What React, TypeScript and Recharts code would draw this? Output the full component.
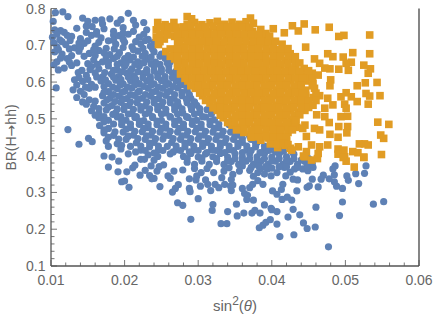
import { ScatterChart, Scatter, XAxis, YAxis, Label } from "recharts";

const FONT = "'Liberation Sans', Arial, sans-serif";
const BLUE = "#5E81B5";
const ORANGE = "#E19C24";
const FRAME = "#555555";
const TEXT = "#666666";

const xMajor = [0.01, 0.02, 0.03, 0.04, 0.05, 0.06];
const yMajor = [0.1, 0.2, 0.3, 0.4, 0.5, 0.6, 0.7, 0.8];
const xTicks = [0.01, 0.012, 0.014, 0.016, 0.018, 0.02, 0.022, 0.024, 0.026, 0.028, 0.03, 0.032, 0.034, 0.036, 0.038, 0.04, 0.042, 0.044, 0.046, 0.048, 0.05, 0.052, 0.054, 0.056, 0.058, 0.06];
const yTicks = [0.1, 0.12, 0.14, 0.16, 0.18, 0.2, 0.22, 0.24, 0.26, 0.28, 0.3, 0.32, 0.34, 0.36, 0.38, 0.4, 0.42, 0.44, 0.46, 0.48, 0.5, 0.52, 0.54, 0.56, 0.58, 0.6, 0.62, 0.64, 0.66, 0.68, 0.7, 0.72, 0.74, 0.76, 0.78, 0.8];

// sparse points read one by one
const blueOutliers = [
  [.0178,.369],[.0191,.356],[.0203,.356],[.0196,.329],[.02,.331],[.0206,.314],[.0211,.367],[.0214,.374],[.0221,.347],[.0228,.36],[.0236,.372],[.0234,.346],[.0237,.337],[.024,.338],[.0248,.316],[.0244,.358],[.0247,.37],[.0253,.375],[.0259,.345],[.0262,.338],[.0267,.358],[.0273,.321],[.0269,.311],[.0265,.301],[.0272,.272],[.0279,.265],[.0279,.361],[.029,.227],[.0288,.311],[.0289,.302],[.0288,.337],[.03,.283],[.0295,.365],[.0298,.345],[.0304,.354],[.0303,.317],[.0297,.334],[.0317,.305],[.032,.267],[.0319,.251],[.031,.334],[.0313,.322],[.0312,.365],[.0323,.322],[.0321,.354],[.0172,.399],[.0183,.396],[.0192,.385],[.0222,.39],[.0227,.39],[.024,.388],
  [.0477,.152],[.0411,.18],[.043,.185],[.0383,.204],[.0388,.211],[.0392,.219],[.0398,.226],[.0407,.214],[.0331,.215],[.0339,.215],[.0353,.236],[.034,.248],[.0362,.244],[.0373,.244],[.0377,.251],[.0384,.244],[.039,.266],[.0399,.257],[.04,.253],[.0407,.248],[.0422,.233],[.0429,.254],[.0438,.239],[.0443,.217],[.0448,.202],[.0459,.206],[.046,.26],[.0492,.237],[.0496,.274],[.0538,.268],[.0552,.275],[.0434,.304],[.0414,.281],[.0421,.287],[.0427,.279],[.0352,.268],[.0366,.281],[.0375,.279],[.0367,.292],[.0363,.297],[.036,.311],[.037,.313],[.0345,.305],[.0344,.317],[.0328,.313],[.0336,.322],[.0347,.32],[.0345,.335],[.0332,.34],[.0347,.349],[.0356,.358],[.036,.372],
  [.0496,.311],[.0488,.317],[.0485,.329],[.0478,.337],[.047,.347],[.0463,.315],[.0451,.318],[.0448,.314],[.0455,.336],[.0467,.336],[.0504,.333],[.0502,.345],[.0514,.351],[.0518,.324],[.0526,.352],[.0528,.372],[.0485,.348],[.0483,.364],[.0486,.372],[.0435,.334],[.0429,.336],[.0419,.345],[.0415,.322],[.0413,.308],[.0407,.295],[.0401,.304],[.0388,.322],[.0381,.332],[.0374,.322],[.0399,.345],[.0407,.354],[.0381,.354],[.0394,.364],[.0417,.368],[.0431,.364],[.0442,.364],[.0456,.368],[.0449,.359],
  [.0106,.789],[.0116,.791],[.0123,.778],[.0143,.774],[.0103,.765],[.0113,.74],[.0104,.706],[.0104,.647],[.011,.633],[.0107,.584],[.0123,.471],[.0138,.431],[.0151,.447],[.0156,.438],[.0132,.606],[.013,.579],[.0169,.769],[.018,.772],[.019,.76],[.0205,.787],[.0156,.751],[.0162,.737],
];

// the crowded part of the blue cloud
const blueCloud = [
  [.0105,.742],[.0118,.735],[.0135,.746],[.0148,.752],[.0172,.745],[.0185,.738],[.0198,.748],[.0215,.755],[.023,.742],
  [.0102,.722],[.0112,.715],[.0128,.724],[.014,.718],[.0155,.727],[.0168,.72],[.0178,.712],[.0192,.726],[.0205,.73],[.022,.722],[.0232,.716],
  [.0108,.696],[.012,.702],[.0132,.693],[.0145,.705],[.016,.698],[.0175,.692],[.0188,.703],[.02,.708],[.021,.696],[.0222,.704],[.0235,.698],
  [.0105,.682],[.0115,.676],[.0128,.672],[.0138,.684],[.0152,.678],[.0165,.686],[.018,.675],[.0193,.68],[.0205,.672],[.0218,.684],[.0228,.678],[.024,.682],[.025,.676],
  [.0108,.655],[.0122,.664],[.0135,.652],[.0158,.66],[.017,.655],[.0185,.664],[.0195,.652],[.0207,.66],[.0218,.655],[.023,.662],[.0242,.654],[.0255,.664],[.0262,.655],
  [.0118,.638],[.0128,.645],[.0142,.632],[.0155,.642],[.0165,.636],[.0178,.644],[.019,.633],[.02,.642],[.021,.636],[.022,.644],[.023,.634],[.024,.642],[.025,.636],[.026,.644],
  [.0148,.618],[.016,.625],[.017,.614],[.0182,.622],[.0192,.615],[.0203,.624],[.0213,.616],[.0225,.623],[.0235,.614],[.0245,.622],[.0255,.615],[.0265,.624],[.0272,.616],
  [.0143,.602],[.0155,.594],[.0168,.603],[.0178,.596],[.0188,.605],[.0198,.595],[.0208,.604],[.022,.596],[.023,.603],[.024,.595],[.025,.604],[.026,.596],[.027,.603],[.0278,.595],
  [.014,.575],[.0152,.583],[.0178,.574],[.019,.582],[.02,.575],[.021,.584],[.022,.576],[.0232,.583],[.0242,.575],[.0252,.583],[.0262,.576],[.0272,.584],[.0285,.577],
  [.0135,.558],[.0152,.552],[.017,.563],[.018,.556],[.0192,.562],[.0203,.555],[.0213,.564],[.0224,.556],[.0235,.563],[.0246,.555],[.0256,.564],[.0267,.556],[.0278,.563],[.029,.556],
  [.0148,.54],[.0158,.534],[.0172,.543],[.0183,.536],[.0195,.545],[.0206,.536],[.0217,.544],[.0228,.535],[.024,.544],[.025,.536],[.0262,.544],[.0273,.536],[.0285,.544],[.0298,.537],
  [.0155,.522],[.0165,.515],[.0175,.524],[.0188,.516],[.0199,.525],[.021,.515],[.0222,.524],[.0233,.516],[.0245,.525],[.0256,.516],[.0268,.524],[.0279,.516],[.0291,.525],[.0302,.517],[.0312,.525],
  [.0165,.503],[.0178,.496],[.019,.505],[.0202,.496],[.0214,.504],[.0226,.495],[.0238,.504],[.025,.496],[.0262,.505],[.0274,.496],[.0286,.504],[.0298,.496],[.031,.505],[.0322,.497],
  [.0166,.482],[.0178,.474],[.0196,.484],[.0208,.476],[.022,.485],[.0232,.476],[.0244,.484],[.0256,.475],[.0268,.484],[.028,.476],[.0292,.485],[.0304,.476],[.0316,.484],[.0328,.476],[.0342,.484],
  [.0172,.462],[.0185,.455],[.0198,.464],[.0212,.456],[.0224,.465],[.0236,.456],[.0248,.464],[.026,.455],[.0272,.464],[.0284,.456],[.0296,.465],[.0308,.456],[.032,.464],[.0332,.456],[.0344,.464],[.0355,.456],
  [.0175,.44],[.019,.432],[.0202,.444],[.0216,.435],[.0228,.444],[.024,.436],[.0252,.445],[.0264,.436],[.0276,.444],[.0288,.436],[.03,.445],[.0312,.436],[.0324,.444],[.0336,.436],[.0348,.444],[.036,.436],[.0372,.444],[.038,.436],
  [.0178,.425],[.0195,.418],[.0208,.425],[.0222,.415],[.0234,.424],[.0246,.416],[.0258,.425],[.027,.416],[.0282,.424],[.0294,.416],[.0306,.425],[.0318,.416],[.033,.424],[.0342,.416],[.0354,.425],[.0366,.416],[.0378,.424],[.039,.416],[.04,.424],[.041,.418],
  [.0205,.405],[.0232,.402],[.0245,.398],[.0262,.405],[.028,.398],[.029,.406],[.03,.396],[.031,.405],[.032,.397],[.033,.406],[.034,.396],[.035,.405],[.036,.396],[.037,.405],[.038,.397],[.039,.405],[.04,.396],[.041,.405],[.042,.397],[.043,.404],
  [.0285,.382],[.0295,.376],[.0305,.385],[.0315,.376],[.0325,.384],[.0335,.376],[.0345,.384],[.0355,.376],[.0365,.385],[.0375,.376],[.0385,.384],[.0395,.376],[.0405,.385],[.0415,.376],[.0425,.384],[.0435,.376],[.0445,.384],[.0455,.378],
  [.0335,.358],[.037,.36],[.0385,.365],[.041,.37],[.0425,.355],[.0375,.344],[.039,.35],[.0342,.367],
];

// second pass over the same cloud, between the rows above
const blueFill = [
  [.015,.765],[.016,.768],[.017,.758],[.0195,.77],[.0212,.768],[.0226,.762],
  [.0108,.73],[.0122,.727],[.0148,.735],[.0162,.73],[.0185,.728],[.0198,.733],[.0212,.738],[.0226,.73],
  [.0115,.71],[.0126,.713],[.0138,.706],[.015,.712],[.0165,.708],[.0185,.714],[.0198,.716],[.0215,.71],[.0228,.713],[.024,.708],
  [.011,.688],[.0125,.69],[.014,.694],[.0158,.688],[.0172,.68],[.0186,.69],[.0198,.694],[.0212,.688],[.0225,.692],[.0238,.69],
  [.0113,.665],[.0145,.67],[.016,.672],[.0175,.668],[.019,.67],[.02,.664],[.0212,.668],[.0224,.67],[.0236,.668],[.0248,.67],[.026,.668],
  [.0125,.654],[.015,.65],[.0163,.648],[.0178,.654],[.019,.648],[.0202,.65],[.0214,.648],[.0226,.652],[.0236,.65],[.0248,.648],[.0258,.652],
  [.0137,.626],[.0153,.634],[.0173,.626],[.0185,.632],[.0196,.628],[.0208,.63],[.0218,.628],[.023,.626],[.024,.63],[.025,.628],[.026,.632],[.027,.63],
  [.0138,.612],[.015,.607],[.0162,.614],[.0174,.606],[.0185,.613],[.0195,.607],[.0205,.614],[.0215,.608],[.0225,.612],[.0235,.606],[.0245,.613],[.0255,.607],[.0265,.612],[.0275,.606],
  [.0135,.592],[.0147,.586],[.016,.586],[.0172,.588],[.0184,.586],[.0194,.592],[.0204,.586],[.0214,.593],[.0226,.588],[.0236,.592],[.0246,.586],[.0256,.592],[.0266,.588],[.0276,.592],[.0284,.588],
  [.0145,.566],[.0172,.572],[.0185,.566],[.0197,.572],[.0208,.566],[.0218,.572],[.0228,.566],[.0238,.572],[.0248,.566],[.0258,.572],[.0268,.566],[.0278,.572],[.0288,.566],
  [.0143,.546],[.016,.548],[.0176,.552],[.0187,.547],[.0198,.553],[.0208,.546],[.0218,.553],[.023,.546],[.024,.553],[.0252,.546],[.0262,.553],[.0272,.546],[.0284,.553],[.0295,.546],
  [.0165,.528],[.0178,.532],[.019,.527],[.02,.534],[.0212,.526],[.0222,.533],[.0234,.527],[.0245,.534],[.0256,.526],[.0268,.533],[.0278,.527],[.029,.534],[.0302,.528],
  [.016,.51],[.0172,.506],[.0184,.512],[.0195,.506],[.0205,.513],[.0216,.506],[.0228,.513],[.0238,.506],[.025,.513],[.0262,.506],[.0272,.513],[.0284,.506],[.0295,.513],[.0306,.506],[.0318,.513],
  [.0172,.492],[.0185,.486],[.0196,.494],[.0208,.486],[.022,.494],[.0232,.486],[.0244,.494],[.0256,.486],[.0268,.494],[.028,.486],[.0292,.494],[.0304,.486],[.0316,.494],[.0328,.486],
  [.0172,.47],[.0187,.465],[.0202,.472],[.0214,.466],[.0226,.474],[.0238,.466],[.025,.474],[.0262,.466],[.0274,.474],[.0286,.466],[.0298,.474],[.031,.466],[.0322,.474],[.0334,.466],[.0348,.473],
  [.0178,.45],[.0192,.445],[.0205,.453],[.0218,.446],[.023,.454],[.0242,.446],[.0254,.454],[.0266,.446],[.0278,.454],[.029,.446],[.0302,.454],[.0314,.446],[.0326,.454],[.0338,.446],[.035,.454],[.036,.446],[.037,.453],
  [.0196,.428],[.0222,.426],[.0234,.434],[.0246,.426],[.027,.426],[.0282,.434],[.0294,.426],[.0306,.434],[.0318,.426],[.033,.434],[.0342,.426],[.0354,.434],[.0366,.426],[.0378,.434],[.039,.426],
  [.0215,.41],[.0228,.414],[.024,.407],[.0252,.414],[.0266,.41],[.0276,.414],[.0288,.41],[.03,.414],[.0312,.408],[.0324,.414],[.0336,.408],[.0348,.414],[.036,.408],[.0372,.414],[.0384,.408],[.0396,.414],[.0405,.41],[.0416,.412],[.0428,.41],
  [.0285,.392],[.0305,.394],[.0325,.392],[.034,.386],[.035,.392],[.036,.386],[.037,.392],[.038,.386],[.039,.392],[.04,.386],[.041,.392],[.042,.386],[.043,.392],[.044,.388],[.045,.392],
  [.0372,.368],[.0382,.372],[.0392,.37],[.04,.366],[.042,.37],[.0435,.368],[.0448,.372],
];

const orangeOutliers = [
  [.0371,.774],[.0375,.76],[.0402,.745],[.0428,.753],[.0444,.758],[.0436,.739],[.0459,.742],[.0478,.749],[.0417,.734],[.0397,.725],[.0491,.724],[.0498,.727],[.0533,.728],[.0446,.695],[.051,.68],[.0533,.677],[.0476,.677],[.0483,.669],[.0497,.668],[.0508,.654],[.0501,.651],[.0525,.646],[.0534,.636],[.0531,.624],[.0491,.635],[.0504,.632],[.0472,.638],[.0479,.636],[.0458,.663],[.0465,.651],[.0463,.619],[.048,.606],[.0479,.59],[.0543,.599],[.0527,.598],[.0516,.59],[.0528,.569],[.0533,.562],[.0547,.563],[.0531,.54],[.0501,.571],[.0494,.56],[.0508,.56],[.0516,.547],[.0499,.54],[.0501,.529],[.0483,.538],[.0476,.556],[.0456,.537],[.0461,.511],[.0472,.506],[.0478,.49],[.0472,.529],[.0494,.506],[.0503,.507],[.0491,.479],[.0503,.479],[.0502,.462],[.0544,.491],[.0559,.485],[.0548,.456],[.0552,.447],[.049,.45],[.0479,.458],[.0445,.483],[.0442,.474],[.0458,.474],[.0465,.47],[.0433,.497],[.0519,.432],[.0526,.432],[.0531,.429],[.0549,.403],[.051,.411],[.0517,.408],[.0525,.395],[.049,.418],[.0498,.415],[.049,.404],[.0499,.397],[.0476,.429],[.0465,.424],[.0463,.406],[.0454,.429],[.0447,.452],[.0447,.411],[.0436,.424],[.0445,.397],[.0427,.415],[.0512,.369],[.0501,.385],[.0497,.395],[.0525,.396],[.0454,.388],[.0462,.392],[.0443,.399],
];

const orangeCloud = [
  [.0285,.778],[.0291,.772],
  [.0245,.762],[.0255,.756],[.0267,.762],[.0285,.757],[.0295,.762],[.0305,.756],[.0316,.761],[.0326,.765],[.0336,.757],[.0346,.763],[.0356,.757],[.0365,.764],
  [.0243,.742],[.0254,.737],[.0264,.744],[.0274,.738],[.0284,.744],[.0294,.737],[.0304,.744],[.0314,.738],[.0324,.743],[.0334,.737],[.0344,.744],[.0354,.738],[.0364,.744],[.0374,.738],[.0385,.743],
  [.0243,.722],[.0254,.717],[.0268,.724],[.0278,.718],[.0288,.724],[.0298,.717],[.0308,.724],[.0318,.718],[.0328,.723],[.0338,.717],[.0348,.724],[.0358,.718],[.0368,.724],[.0378,.718],[.0388,.723],[.0396,.716],
  [.0246,.702],[.0272,.704],[.0282,.697],[.0292,.703],[.0302,.697],[.0312,.704],[.0322,.698],[.0332,.703],[.0342,.697],[.0352,.704],[.0362,.698],[.0372,.703],[.0382,.697],[.0392,.704],[.0402,.698],[.0414,.703],
  [.0256,.683],[.0267,.677],[.0276,.684],[.0286,.678],[.0296,.683],[.0306,.677],[.0316,.684],[.0326,.678],[.0336,.683],[.0346,.677],[.0356,.684],[.0366,.678],[.0376,.683],[.0386,.677],[.0396,.684],[.0406,.678],[.0416,.683],[.0425,.677],
  [.0268,.663],[.0278,.657],[.0288,.664],[.0298,.658],[.0308,.663],[.0318,.657],[.0328,.664],[.0338,.658],[.0348,.663],[.0358,.657],[.0368,.664],[.0378,.658],[.0388,.663],[.0398,.657],[.0408,.664],[.0418,.658],[.0428,.662],
  [.0272,.643],[.0282,.637],[.0292,.644],[.0302,.638],[.0312,.643],[.0322,.637],[.0332,.644],[.0342,.638],[.0352,.643],[.0362,.637],[.0372,.644],[.0382,.638],[.0392,.643],[.0402,.637],[.0412,.644],[.0422,.638],[.0432,.643],[.0444,.637],
  [.0276,.622],[.0286,.617],[.0296,.623],[.0306,.618],[.0316,.623],[.0326,.617],[.0336,.624],[.0346,.618],[.0356,.623],[.0366,.617],[.0376,.624],[.0386,.618],[.0396,.623],[.0406,.617],[.0416,.624],[.0426,.618],[.0436,.623],[.0446,.617],[.0455,.624],
  [.0286,.603],[.0296,.597],[.0306,.604],[.0316,.598],[.0326,.603],[.0336,.597],[.0346,.604],[.0356,.598],[.0366,.603],[.0376,.597],[.0386,.604],[.0396,.598],[.0406,.603],[.0416,.597],[.0426,.604],[.0436,.598],[.0446,.603],[.0456,.597],
  [.0296,.583],[.0306,.577],[.0316,.584],[.0326,.578],[.0336,.583],[.0346,.577],[.0356,.584],[.0366,.578],[.0376,.583],[.0386,.577],[.0396,.584],[.0406,.578],[.0416,.583],[.0426,.577],[.0436,.584],[.0446,.578],[.0458,.583],
  [.0306,.563],[.0316,.557],[.0326,.564],[.0336,.558],[.0346,.563],[.0356,.557],[.0366,.564],[.0376,.558],[.0386,.563],[.0396,.557],[.0406,.564],[.0416,.558],[.0426,.563],[.0436,.557],[.0446,.564],[.0456,.558],[.0465,.563],
  [.0316,.543],[.0326,.537],[.0336,.544],[.0346,.538],[.0356,.543],[.0366,.537],[.0376,.544],[.0386,.538],[.0396,.543],[.0406,.537],[.0416,.544],[.0426,.538],[.0436,.543],[.0446,.537],
  [.0326,.523],[.0336,.517],[.0346,.524],[.0356,.518],[.0366,.523],[.0376,.517],[.0386,.524],[.0396,.518],[.0406,.523],[.0416,.517],[.0426,.524],[.0436,.518],[.0445,.523],
  [.0334,.503],[.0346,.497],[.0356,.504],[.0366,.498],[.0376,.503],[.0386,.497],[.0396,.504],[.0406,.498],[.0416,.503],[.0426,.497],
  [.0346,.483],[.0356,.477],[.0366,.484],[.0376,.478],[.0386,.483],[.0396,.477],[.0406,.484],[.0416,.478],[.0426,.483],[.0434,.477],
  [.0362,.463],[.0372,.457],[.0382,.464],[.0392,.458],[.0402,.463],[.0412,.457],[.0422,.463],
  [.0385,.442],[.0395,.448],[.0405,.441],[.0415,.447],[.042,.44],
  [.0408,.422],[.0418,.428],[.0425,.42],
];

const orangeFill = [
  [.0249,.75],[.026,.751],[.027,.749],[.028,.75],[.029,.752],[.03,.749],[.031,.75],[.032,.752],[.033,.749],[.034,.75],[.035,.751],[.036,.75],[.037,.749],
  [.0248,.73],[.0258,.728],[.0272,.73],[.0282,.731],[.0292,.729],[.0302,.731],[.0312,.73],[.0322,.729],[.0332,.731],[.0342,.73],[.0352,.731],[.0362,.729],[.0372,.731],[.0382,.73],[.0392,.732],
  [.0248,.71],[.0275,.71],[.0285,.711],[.0295,.709],[.0305,.711],[.0315,.71],[.0325,.711],[.0335,.709],[.0345,.711],[.0355,.71],[.0365,.711],[.0375,.709],[.0385,.711],[.0395,.71],[.0405,.711],
  [.0262,.69],[.0272,.69],[.0282,.691],[.0292,.689],[.0302,.691],[.0312,.69],[.0322,.691],[.0332,.689],[.0342,.691],[.0352,.69],[.0362,.691],[.0372,.689],[.0382,.691],[.0392,.69],[.0402,.691],[.0412,.689],[.0422,.691],
  [.0262,.67],[.0272,.669],[.0282,.671],[.0292,.67],[.0302,.671],[.0312,.669],[.0322,.671],[.0332,.67],[.0342,.671],[.0352,.669],[.0362,.671],[.0372,.67],[.0382,.671],[.0392,.669],[.0402,.671],[.0412,.67],[.0422,.671],[.0432,.669],
  [.0272,.65],[.0282,.651],[.0292,.649],[.0302,.651],[.0312,.65],[.0322,.651],[.0332,.649],[.0342,.651],[.0352,.65],[.0362,.651],[.0372,.649],[.0382,.651],[.0392,.65],[.0402,.651],[.0412,.649],[.0422,.651],[.0432,.65],[.0438,.652],
  [.0278,.63],[.0288,.631],[.0298,.629],[.0308,.631],[.0318,.63],[.0328,.631],[.0338,.629],[.0348,.631],[.0358,.63],[.0368,.631],[.0378,.629],[.0388,.631],[.0398,.63],[.0408,.631],[.0418,.629],[.0428,.631],[.0438,.63],[.045,.631],
  [.0282,.61],[.0292,.611],[.0302,.609],[.0312,.611],[.0322,.61],[.0332,.611],[.0342,.609],[.0352,.611],[.0362,.61],[.0372,.611],[.0382,.609],[.0392,.611],[.0402,.61],[.0412,.611],[.0422,.609],[.0432,.611],[.0442,.61],[.0455,.611],
  [.029,.59],[.03,.591],[.031,.589],[.032,.591],[.033,.59],[.034,.591],[.035,.589],[.036,.591],[.037,.59],[.038,.591],[.039,.589],[.04,.591],[.041,.59],[.042,.591],[.043,.589],[.044,.591],[.0455,.59],
  [.0302,.57],[.0312,.571],[.0322,.569],[.0332,.571],[.0342,.57],[.0352,.571],[.0362,.569],[.0372,.571],[.0382,.57],[.0392,.571],[.0402,.569],[.0412,.571],[.0422,.57],[.0432,.571],[.0442,.569],[.046,.57],
  [.031,.55],[.032,.551],[.033,.549],[.034,.551],[.035,.55],[.036,.551],[.037,.549],[.038,.551],[.039,.55],[.04,.551],[.041,.549],[.042,.551],[.043,.55],[.044,.551],[.045,.549],[.046,.55],
  [.032,.53],[.033,.531],[.034,.529],[.035,.531],[.036,.53],[.037,.531],[.038,.529],[.039,.531],[.04,.53],[.041,.531],[.042,.529],[.043,.531],[.044,.53],[.045,.531],
  [.033,.51],[.034,.511],[.035,.509],[.036,.511],[.037,.51],[.038,.511],[.039,.509],[.04,.511],[.041,.51],[.042,.511],[.043,.509],[.0438,.511],
  [.034,.49],[.035,.491],[.036,.489],[.037,.491],[.038,.49],[.039,.491],[.04,.489],[.041,.491],[.042,.49],[.0432,.491],
  [.0352,.47],[.0362,.471],[.0372,.469],[.0382,.471],[.0392,.47],[.0402,.471],[.0412,.469],[.0422,.471],[.0428,.47],
  [.0372,.45],[.0382,.451],[.0392,.452],[.0402,.45],[.0412,.451],[.042,.45],
  [.0398,.432],[.0408,.431],[.0416,.433],[.0422,.43],
];

const toRows = (pts: number[][]) => pts.map(([x, y]) => ({ x, y }));

const XTick = ({ x, y, payload, top }: any) => {
  const major = xMajor.some((m) => Math.abs(m - payload.value) < 1e-6);
  const len = major ? 6 : 3.5;
  return (
    <g>
      <line x1={x} x2={x} y1={y} y2={top ? y + len : y - len} stroke={FRAME} strokeWidth={0.8} />
      {major && !top && (
        <text x={x} y={y + 19} textAnchor="middle" fontSize={14} fontFamily={FONT} fill={TEXT}>
          {payload.value.toFixed(2)}
        </text>
      )}
    </g>
  );
};

const YTick = ({ x, y, payload, right }: any) => {
  const major = yMajor.some((m) => Math.abs(m - payload.value) < 1e-6);
  const len = major ? 6 : 3.5;
  return (
    <g>
      <line x1={x} x2={right ? x - len : x + len} y1={y} y2={y} stroke={FRAME} strokeWidth={0.8} />
      {major && !right && (
        <text x={x - 5.5} y={y + 5} textAnchor="end" fontSize={14} fontFamily={FONT} fill={TEXT}>
          {payload.value.toFixed(1)}
        </text>
      )}
    </g>
  );
};

const Dot = ({ cx, cy }: any) => <circle cx={cx} cy={cy} r={3.6} fill={BLUE} />;
const Square = ({ cx, cy }: any) => <rect x={cx - 3.8} y={cy - 3.8} width={7.6} height={7.6} fill={ORANGE} />;

export default function App() {
  return (
    <div style={{ position: "absolute", left: 0, top: 0 }}>
      <ScatterChart width={436} height={317} margin={{ top: 8.5, right: 0, bottom: 0, left: 0 }}>
        <XAxis
          xAxisId="b"
          dataKey="x"
          type="number"
          domain={[0.01, 0.06]}
          ticks={xTicks}
          interval={0}
          height={51}
          tickSize={0}
          tickMargin={0}
          tickLine={false}
          axisLine={{ stroke: FRAME, strokeWidth: 1.3 }}
          tick={<XTick />}
        >
          <Label
            content={() => (
              <text x={235} y={311} textAnchor="middle" fontSize={15} fontFamily={FONT} fill={TEXT}>
                sin
                <tspan dy={-6} fontSize={12}>2</tspan>
                <tspan dy={6}>(</tspan>
                <tspan fontStyle="italic">θ</tspan>)
              </text>
            )}
          />
        </XAxis>
        <XAxis
          xAxisId="t"
          orientation="top"
          type="number"
          dataKey="x"
          domain={[0.01, 0.06]}
          ticks={xTicks}
          interval={0}
          height={0}
          tickSize={0}
          tickMargin={0}
          tickLine={false}
          axisLine={{ stroke: "#777777", strokeWidth: 1 }}
          tick={<XTick top />}
        />
        <YAxis
          yAxisId="l"
          dataKey="y"
          type="number"
          domain={[0.1, 0.8]}
          ticks={yTicks}
          interval={0}
          width={51}
          tickSize={0}
          tickMargin={0}
          tickLine={false}
          axisLine={{ stroke: FRAME, strokeWidth: 1.3 }}
          tick={<YTick />}
        >
          <Label
            content={() => (
              <text transform="translate(16,137.5) rotate(-90)" textAnchor="middle" fontSize={14} fontFamily={FONT} fill={TEXT}>
                BR(H<tspan fontFamily="'DejaVu Sans'">→</tspan>hh)
              </text>
            )}
          />
        </YAxis>
        <YAxis
          yAxisId="r"
          orientation="right"
          dataKey="y"
          type="number"
          domain={[0.1, 0.8]}
          ticks={yTicks}
          interval={0}
          width={17}
          tickSize={0}
          tickMargin={0}
          tickLine={false}
          axisLine={{ stroke: "#444444", strokeWidth: 1.3 }}
          tick={<YTick right />}
        />
        <Scatter xAxisId="b" yAxisId="l" data={toRows([...blueOutliers, ...blueCloud, ...blueFill])} shape={<Dot />} isAnimationActive={false} />
        <Scatter xAxisId="b" yAxisId="l" data={toRows([...orangeCloud, ...orangeFill, ...orangeOutliers])} shape={<Square />} isAnimationActive={false} />
      </ScatterChart>
    </div>
  );
}
